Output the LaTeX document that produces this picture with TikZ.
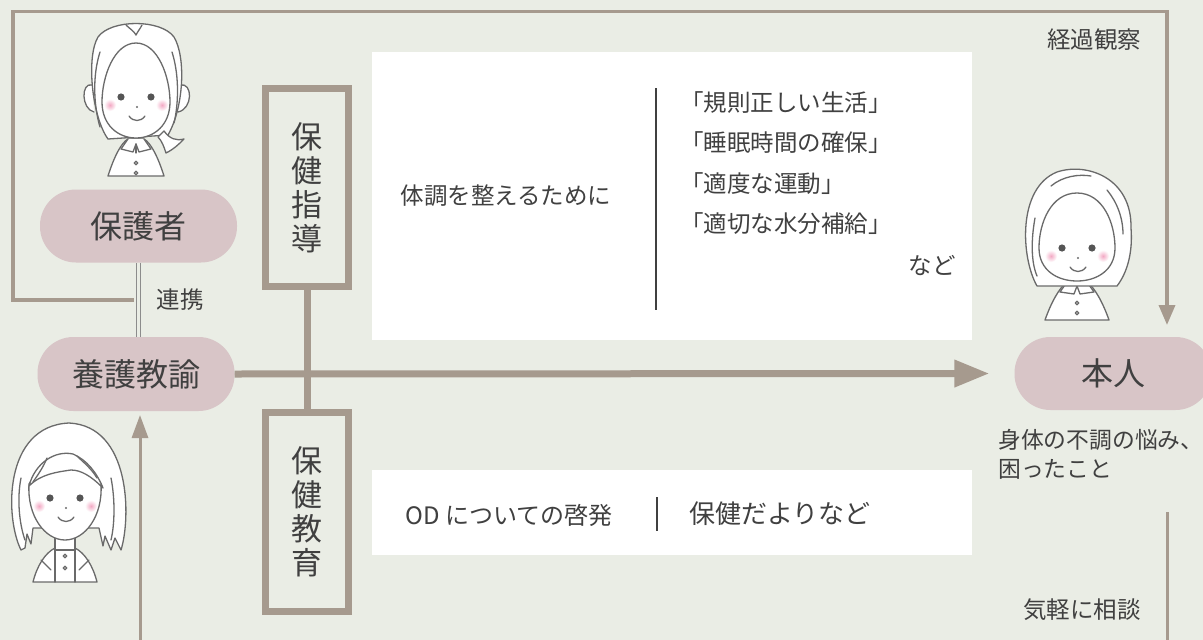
\documentclass[tikz,border=0pt]{standalone}
\usepackage{fontspec}
\setmainfont{Noto Sans CJK JP}
\usetikzlibrary{arrows.meta,calc}

\definecolor{bgc}{HTML}{EAEDE5}
\definecolor{linec}{HTML}{A69A8E}
\definecolor{pillc}{HTML}{D8C5C7}
\definecolor{txtc}{HTML}{404040}
\definecolor{inkc}{HTML}{6A6A6A}
\definecolor{blushc}{HTML}{F3A9C4}

\tikzset{
  pill/.style={rectangle, rounded corners=36pt, fill=pillc, minimum width=197pt,
    minimum height=73pt, inner sep=0pt, text=txtc, font=\fontsize{32}{32}\selectfont},
  tallbox/.style={rectangle, draw=linec, line width=7pt, fill=bgc, minimum width=83pt,
    minimum height=198pt, inner sep=0pt, align=center, text=txtc,
    font=\fontsize{31}{34}\selectfont},
  infobox/.style={rectangle, fill=white, inner sep=0pt, minimum width=600pt},
  lbl/.style={inner sep=0pt, text=txtc, font=\fontsize{23.5}{23.5}\selectfont},
  smalllbl/.style={inner sep=0pt, text=txtc, font=\fontsize{22.8}{22.8}\selectfont},
  biglbl/.style={inner sep=0pt, text=txtc, font=\fontsize{26}{26}\selectfont},
  divider/.style={draw=txtc, line width=2.2pt},
  loopline/.style={draw=linec, line width=3.5pt},
  thinline/.style={draw=linec, line width=3pt},
  mainarrow/.style={draw=linec, line width=7pt, -{Triangle[length=35pt,width=26pt]}},
  link/.style={draw=black!45, line width=1.1pt, double=bgc, double distance=3.6pt},
  ink/.style={draw=inkc, line width=1.3pt, line join=round, line cap=round},
  % shared face details: eyes, cheeks, nose, smile
  pics/facefeat/.style={code={
    \shade[inner color=blushc, outer color=white] (-26,8) circle (6);
    \shade[inner color=blushc, outer color=white] (26,8) circle (6);
    \fill[inkc!80!black] (-15,0) circle (3.6);
    \fill[inkc!80!black] (15,0) circle (3.6);
    \fill[inkc] (1,10) circle (1.1);
    \draw[ink] (-7,19) .. controls (-3,25) and (5,25) .. (9,19);
  }},
  pics/mother/.style={code={
    % shirt
    \draw[ink, fill=white] (-28,79) .. controls (-22,60) and (-15,46) .. (-8,42)
      -- (8,42) .. controls (15,46) and (22,60) .. (28,79) -- cycle;
    \draw[ink, fill=white] (-8,42) -- (-15,52) -- (-3,55) -- (0,47) -- (3,55) -- (15,52) -- (8,42);
    \draw[ink] (0,47) -- (0,56);
    \draw[ink, fill=white] (0,66) circle (1.8);
    \draw[ink, fill=white] (0,76) circle (1.8);
    % ears
    \draw[ink, fill=white] (-44,-12) .. controls (-55,-15) and (-55,12) .. (-42,15);
    \draw[ink, fill=white] (44,-12) .. controls (57,-15) and (57,12) .. (42,15);
    % hair mass
    \draw[ink, fill=white] (-28,42) .. controls (-44,20) and (-50,-40) .. (-38,-60)
      .. controls (-25,-78) and (25,-78) .. (38,-60)
      .. controls (50,-40) and (48,10) .. (32,38) -- cycle;
    % hair end falling over the shoulder
    \draw[ink, fill=white] (28,34) .. controls (34,42) and (40,44) .. (48,42)
      .. controls (42,48) and (38,52) .. (30,56) .. controls (28,50) and (26,44) .. (22,40) -- cycle;
    % face
    \draw[ink, fill=white] (0,-54) .. controls (22,-54) and (34,-20) .. (34,5)
      .. controls (34,28) and (18,41) .. (0,41) .. controls (-18,41) and (-34,28) .. (-34,5)
      .. controls (-34,-20) and (-22,-54) .. (0,-54) -- cycle;
    % strands
    \draw[ink] (-36,-45) .. controls (-44,-20) and (-42,10) .. (-36,30);
    \draw[ink] (36,-45) .. controls (44,-20) and (42,10) .. (38,26);
    \draw[ink] (-10,-72) .. controls (-6,-68) and (-2,-66) .. (0,-62);
    \draw[ink] (6,-72) .. controls (4,-68) and (2,-66) .. (0,-62);
    \pic {facefeat};
  }},
  pics/child/.style={code={
    % shirt
    \draw[ink, fill=white] (-32,84) .. controls (-28,68) and (-20,55) .. (-10,50)
      -- (10,50) .. controls (20,55) and (28,68) .. (32,84) -- cycle;
    \draw[ink] (-10,50) -- (-10,84); \draw[ink] (10,50) -- (10,84);
    \draw[ink] (-24,62) -- (-14,72); \draw[ink] (24,62) -- (14,72);
    \draw[ink, fill=white] (-10,40) rectangle (10,52);
    \draw[ink, fill=white] (0,58) circle (1.8);
    \draw[ink, fill=white] (0,70) circle (1.8);
    % bob hair
    \draw[ink, fill=white] (-44,52) .. controls (-60,20) and (-62,-72) .. (4,-75)
      .. controls (66,-72) and (66,20) .. (56,52)
      -- (50,40) -- (46,52) -- (40,38) -- (38,48) -- (34,30)
      -- (-32,30) -- (-34,46) -- (-38,36) -- (-40,50) -- cycle;
    % face
    \draw[ink, fill=white] (-36,-14) .. controls (-38,18) and (-20,42) .. (0,42)
      .. controls (20,42) and (38,18) .. (36,-14)
      .. controls (22,-40) and (-22,-40) .. (-36,-14) -- cycle;
    % fringe
    \draw[ink, fill=white] (-36,-12) .. controls (-30,-35) and (-10,-48) .. (8,-44)
      .. controls (22,-38) and (32,-25) .. (38,-10)
      .. controls (26,-22) and (16,-28) .. (6,-28)
      .. controls (-8,-26) and (-24,-24) .. (-36,-12) -- cycle;
    \draw[ink] (-18,-40) .. controls (-22,-30) and (-28,-22) .. (-32,-16);
    \draw[ink] (12,-42) .. controls (18,-36) and (26,-30) .. (32,-20);
    \draw[ink] (-44,-20) .. controls (-48,0) and (-46,25) .. (-40,42);
    \draw[ink] (46,-20) .. controls (50,0) and (50,25) .. (46,42);
    \pic {facefeat};
  }},
  pics/boy/.style={code={
    % shirt
    \draw[ink, fill=white] (-32,72) .. controls (-26,55) and (-18,40) .. (-10,34)
      -- (10,34) .. controls (18,40) and (26,55) .. (32,72) -- cycle;
    \draw[ink, fill=white] (-10,34) -- (-17,44) -- (-3,46) -- (0,38) -- (3,46) -- (17,44) -- (10,34);
    \draw[ink, fill=white] (0,55) circle (1.8);
    \draw[ink, fill=white] (0,65) circle (1.8);
    % short hair
    \draw[ink, fill=white] (-40,38) .. controls (-56,10) and (-60,-60) .. (-20,-76)
      .. controls (10,-86) and (55,-70) .. (54,-20)
      .. controls (56,5) and (50,25) .. (40,38) -- cycle;
    % face
    \draw[ink, fill=white] (0,-55) .. controls (26,-55) and (38,-25) .. (38,0)
      .. controls (38,22) and (20,33) .. (0,33) .. controls (-20,33) and (-38,22) .. (-38,0)
      .. controls (-38,-25) and (-26,-55) .. (0,-55) -- cycle;
    % strands
    \draw[ink] (-26,-62) .. controls (-14,-72) and (2,-74) .. (14,-72);
    \draw[ink] (30,-58) .. controls (40,-46) and (46,-30) .. (46,-14);
    \draw[ink] (-42,-30) .. controls (-46,-8) and (-46,14) .. (-40,28);
    \pic {facefeat};
  }}
}

\begin{document}
\begin{tikzpicture}[x=1pt,y=-1pt]
  \clip (0,0) rectangle (1203,640);
  \fill[bgc] (0,0) rectangle (1203,640);

  % content panels
  \node[infobox, minimum height=288pt] (infoA) at (672,196) {};
  \node[infobox, minimum height=85pt] (infoB) at (672,512.5) {};

  % actors
  \node[pill] (hogo) at (138.5,226) {保護者};
  \node[pill, minimum height=74pt] (yogo) at (136,374) {養護教諭};
  \node[pill] (honnin) at (1113,373.5) {本人};

  % guidance / education boxes
  \node[tallbox] (guide) at (307,187.5) {保\\健\\指\\導};
  \node[tallbox, minimum height=199pt] (edu) at (307,512) {保\\健\\教\\育};
  \draw[draw=linec, line width=7pt] (guide.south) -- (edu.north);

  % main arrow from the nurse teacher to the student
  \draw[mainarrow, shorten >=25pt] (yogo.east) -- (honnin.west);

  % cooperation link
  \draw[link] (hogo.south) -- (hogo.south |- yogo.north);
  \node[lbl] (renkei) at (180,300) {連携};

  % observation loop
  \coordinate (loopstart) at (134,300);
  \coordinate (loopcorner) at (13,11.5);
  \coordinate (obsend) at (1167,325);
  \draw[loopline, -{Triangle[length=20pt,width=16pt]}] (loopstart) -| (loopcorner) -| (obsend);
  \node[lbl] (keika) at (1094,40) {経過観察};

  % consultation loop
  \coordinate (consulttop) at (1167,512);
  \coordinate (consultlow) at (140,660);
  \coordinate (consultend) at (140,415);
  \draw[thinline, -{Triangle[length=23pt,width=16pt]}] (consulttop) |- (consultlow) -- (consultend);
  \node[lbl] (soudan) at (1082,610) {気軽に相談};

  % student's worries
  \node[smalllbl, anchor=west] (worry1) at (998,440) {身体の不調の悩み、};
  \node[smalllbl, anchor=west] (worry2) at (998,469) {困ったこと};

  % health guidance contents
  \node[lbl] (purpose) at (506,196) {体調を整えるために};
  \coordinate (divAtop) at (656,88);
  \coordinate (divAbot) at (656,310);
  \draw[divider] (divAtop) -- (divAbot);
  \node[lbl, anchor=west] (item1) at (680,103) {「規則正しい生活」};
  \node[lbl, anchor=west] (item2) at (680,143) {「睡眠時間の確保」};
  \node[lbl, anchor=west] (item3) at (680,184) {「適度な運動」};
  \node[lbl, anchor=west] (item4) at (680,224) {「適切な水分補給」};
  \node[lbl, anchor=east] (etc) at (956,266) {など};

  % health education contents
  \node[lbl, font=\fontsize{24}{24}\selectfont] (od) at (509,515) {OD についての啓発};
  \coordinate (divBtop) at (657,497);
  \coordinate (divBbot) at (657,531);
  \draw[divider] (divBtop) -- (divBbot);
  \node[biglbl, anchor=west] (letter) at (689,514) {保健だよりなど};

  % people
  \pic at (136,97) {mother};
  \pic at (65,498) {child};
  \pic at (1077,248) {boy};
\end{tikzpicture}
\end{document}
